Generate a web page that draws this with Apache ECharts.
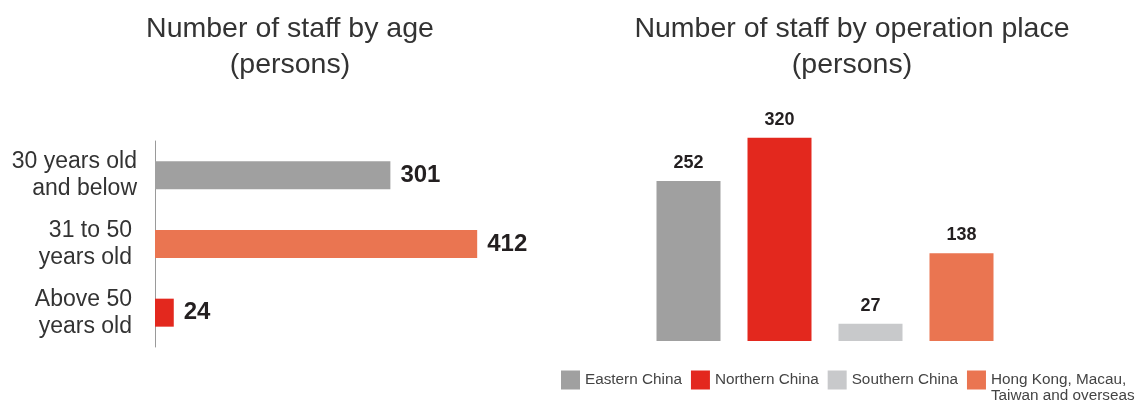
<!DOCTYPE html>
<html>
<head>
<meta charset="utf-8">
<script src="https://cdn.jsdelivr.net/npm/echarts@6/dist/echarts.min.js"></script>
<style>
  html, body { margin: 0; padding: 0; background: #fff; }
  #chart { width: 1140px; height: 404px; }
</style>
</head>
<body>
<div id="chart"></div>
<script>
// 左：按年龄划分员工人数；右：按运营地点划分员工人数

const ageGroups = ['30 years old\nand below', '31 to 50\nyears old', 'Above 50\nyears old']
const ageCounts = [301, 412, 24]
const ageColors = ['#a0a0a0', '#ea7551', '#e3281e']

const regionNames = ['Eastern China', 'Northern China', 'Southern China', 'Hong Kong, Macau,\nTaiwan and overseas']
const regionCounts = [252, 320, 27, 138]
const regionColors = ['#a0a0a0', '#e3281e', '#c8c9cb', '#ea7551']

const FONT = '"Liberation Sans", Arial, sans-serif'
const chart = echarts.init(document.getElementById('chart'), null, { renderer: 'canvas' })

// 每个地区一个系列，堆叠在同一位置，方便出图例
const regionSeries = regionNames.map((name, i) => ({
  name,
  type: 'bar',
  xAxisIndex: 1,
  yAxisIndex: 1,
  stack: 'region',
  barWidth: 64,
  itemStyle: { color: regionColors[i] },
  label: {
    show: true,
    position: 'top',
    distance: 9,
    fontFamily: FONT,
    fontWeight: 'bold',
    fontSize: 18,
    color: '#231f20',
  },
  data: regionCounts.map((v, j) => (j === i ? v : '-')),
}))

chart.setOption({
  animation: false,
  textStyle: { fontFamily: FONT },
  title: [
    {
      text: 'Number of staff by age\n(persons)',
      left: 285,
      top: 6,
      textAlign: 'center',
      textStyle: { fontFamily: FONT, fontWeight: 'normal', fontSize: 28.5, lineHeight: 36, color: '#333' },
    },
    {
      text: 'Number of staff by operation place\n(persons)',
      left: 847,
      top: 6,
      textAlign: 'center',
      textStyle: { fontFamily: FONT, fontWeight: 'normal', fontSize: 28.5, lineHeight: 36, color: '#333' },
    },
  ],
  legend: {
    left: 561,
    top: 356,
    width: 800,
    padding: 0,
    itemWidth: 19,
    itemHeight: 19,
    itemGap: 9,
    icon: 'rect',
    selectedMode: false,
    textStyle: { fontFamily: FONT, fontSize: 15.3, lineHeight: 16, color: '#444' },
    // 多行名称前补一空行，使首行与色块对齐
    formatter: (name) => (name.includes('\n') ? '\n' + name : name),
  },
  grid: [
    { left: 155, top: 141, width: 391, height: 206 },
    { left: 643, top: 87, width: 364, height: 254 },
  ],
  xAxis: [
    {
      gridIndex: 0,
      type: 'value',
      min: 0,
      max: 500,
      show: false,
    },
    {
      gridIndex: 1,
      type: 'category',
      data: regionNames,
      axisLine: { show: false },
      axisTick: { show: false },
      axisLabel: { show: false },
    },
  ],
  yAxis: [
    {
      gridIndex: 0,
      type: 'category',
      inverse: true,
      // 原图后两项标签比第一项略缩进
      data: ageGroups.map((v, i) => (i === 0 ? v : { value: v, textStyle: { padding: [3, 5, 0, 0] } })),
      axisLine: { show: true, lineStyle: { color: '#9a9a9a', width: 1 } },
      axisTick: { show: false },
      axisLabel: {
        margin: 18,
        fontFamily: FONT,
        fontSize: 23,
        lineHeight: 27,
        padding: [3, 0, 0, 0],
        color: '#333',
        align: 'right',
      },
      splitLine: { show: false },
    },
    {
      gridIndex: 1,
      type: 'value',
      min: 0,
      max: 400,
      show: false,
    },
  ],
  series: [
    {
      type: 'bar',
      xAxisIndex: 0,
      yAxisIndex: 0,
      barWidth: 28,
      data: ageCounts.map((v, i) => ({ value: v, itemStyle: { color: ageColors[i] } })),
      label: {
        show: true,
        position: 'right',
        distance: 10,
        fontFamily: FONT,
        fontWeight: 'bold',
        fontSize: 24,
        color: '#231f20',
      },
    },
    ...regionSeries,
  ],
})

window.addEventListener('resize', () => chart.resize())
</script>
</body>
</html>
